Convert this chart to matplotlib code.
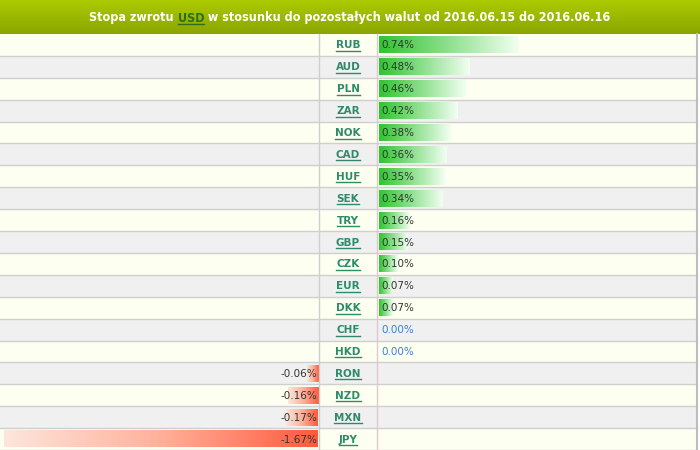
import numpy as np
import matplotlib.pyplot as plt
from matplotlib.colors import LinearSegmentedColormap

currencies = ["RUB", "AUD", "PLN", "ZAR", "NOK", "CAD", "HUF", "SEK", "TRY", "GBP",
              "CZK", "EUR", "DKK", "CHF", "HKD", "RON", "NZD", "MXN", "JPY"]
returns = [0.74, 0.48, 0.46, 0.42, 0.38, 0.36, 0.35, 0.34, 0.16, 0.15,
           0.10, 0.07, 0.07, 0.00, 0.00, -0.06, -0.16, -0.17, -1.67]
title_parts = ["Stopa zwrotu ", "USD", " w stosunku do pozostałych walut od 2016.06.15 do 2016.06.16"]

W, H = 700, 450
top = 34
row_h = (H - top) / len(currencies)
mid_l, mid_r = 319, 377
px_per_pct = 188

fig = plt.figure(figsize=(7, 4.5), dpi=100)
ax = fig.add_axes([0, 0, 1, 1])
ax.set_xlim(0, W)
ax.set_ylim(H, 0)
ax.axis("off")

# header
hdr = np.linspace(0, 1, 50).reshape(-1, 1)
hdr_cmap = LinearSegmentedColormap.from_list("hdr", ["#adcb00", "#8aa500"])
ax.imshow(hdr, cmap=hdr_cmap, extent=(0, W, top, 0), aspect="auto", zorder=1)

green = LinearSegmentedColormap.from_list("g", ["#2fc42f", "#8fe08f", "#f2fff2"])
red = LinearSegmentedColormap.from_list("r", ["#fde6dc", "#ffb09a", "#ff5a3c"])
grad = np.linspace(0, 1, 256).reshape(1, -1)

for i, (cur, val) in enumerate(zip(currencies, returns)):
    y0 = top + i * row_h
    y1 = y0 + row_h
    ym = (y0 + y1) / 2
    bg = "#fdfff0" if i % 2 == 0 else "#f0f0f0"
    ax.fill_between([0, W - 3], y0, y1, color=bg, lw=0, zorder=0)
    ax.plot([0, W - 3], [y1, y1], color="#cfcfcf", lw=1, zorder=2)

    if val > 0:
        x1 = mid_r + 2 + val * px_per_pct
        ax.imshow(grad, cmap=green, extent=(mid_r + 2, x1, y1 - 2.5, y0 + 2.5),
                  aspect="auto", zorder=1)
        ax.text(mid_r + 4, ym + 0.5, f"{val:.2f}%", ha="left", va="center",
                fontsize=7.5, color="#333333", zorder=3)
    elif val < 0:
        x0 = mid_l - 1 + val * px_per_pct
        ax.imshow(grad, cmap=red, extent=(x0, mid_l - 1, y1 - 2.5, y0 + 2.5),
                  aspect="auto", zorder=1)
        ax.text(mid_l - 2, ym + 0.5, f"{val:.2f}%", ha="right", va="center",
                fontsize=7.5, color="#333333", zorder=3)
    else:
        ax.text(mid_r + 4, ym + 0.5, f"{val:.2f}%", ha="left", va="center",
                fontsize=7.5, color="#3a7fd5", zorder=3)

    ax.text((mid_l + mid_r) / 2, ym + 0.5, cur, ha="center", va="center",
            fontsize=7.5, fontweight="bold", color="#2e8b6a", zorder=3)

ax.plot([mid_l, mid_l], [top, H], color="#cfcfcf", lw=1, zorder=2)
ax.plot([mid_r, mid_r], [top, H], color="#e0c8d0", lw=1, zorder=2)
ax.plot([W - 3, W - 3], [top, H], color="#bdbdbd", lw=1.5, zorder=2)

# title pieces, centred, with underline on USD
fig.canvas.draw()
r = fig.canvas.get_renderer()
font = dict(fontsize=9, fontweight="bold", family="DejaVu Sans", fontstretch="condensed")
colors = ["white", "#2d6e1e", "white"]
tmp = [ax.text(0, 0, p, **font) for p in title_parts]
widths = [t.get_window_extent(r).width for t in tmp]
for t in tmp:
    t.remove()
x = W / 2 - sum(widths) / 2
for p, c, w in zip(title_parts, colors, widths):
    ax.text(x, top / 2 + 1, p, ha="left", va="center", color=c, zorder=3, **font)
    if p == "USD":
        ax.plot([x, x + w], [top / 2 + 7, top / 2 + 7], color=c, lw=1, zorder=3)
    x += w

# underline currency codes
fig.canvas.draw()
inv = ax.transData.inverted()
for t in ax.texts:
    if t.get_text() in currencies:
        bb = t.get_window_extent(r)
        (xa, ya), (xb, yb) = inv.transform([[bb.x0, bb.y0], [bb.x1, bb.y1]])
        ax.plot([xa, xb], [ya + 0.5, ya + 0.5], color="#2e8b6a", lw=1, zorder=3)

fig.savefig("out.png", dpi=100)
